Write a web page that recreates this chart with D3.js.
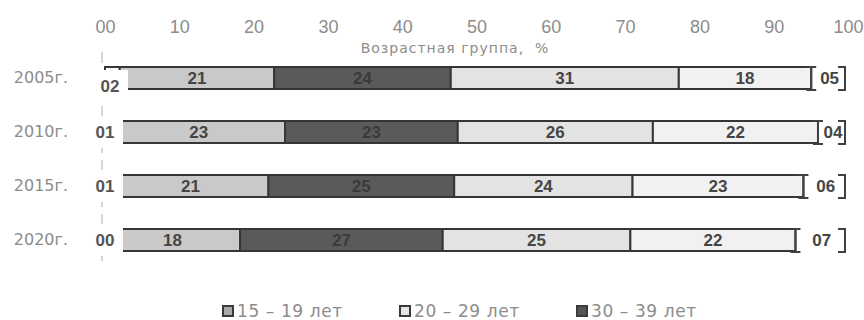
<!DOCTYPE html>
<html>
<head>
<meta charset="utf-8">
<script src="https://cdn.jsdelivr.net/npm/d3@7"></script>
<style>
  body { margin: 0; background: #fff; }
  svg { display: block; }
</style>
</head>
<body>
<svg id="chart" width="864" height="320"></svg>
<script>
// Shares by year, in the order the segments are stacked from left to right.
const years      = ["2005г.", "2010г.", "2015г.", "2020г."];
const leadShare  = [2, 1, 1, 0];      // tiny first share, printed at the zero line
const age15to19  = [21, 23, 21, 18];
const age30to39  = [24, 23, 25, 27];
const age20to29  = [31, 26, 24, 25];
const fourthShare = [18, 22, 23, 22];
const tailShare  = [5, 4, 6, 7];      // tiny last share, shown in brackets

const tickValues = [0, 10, 20, 30, 40, 50, 60, 70, 80, 90, 100];
const tickLabels = ["00", "10", "20", "30", "40", "50", "60", "70", "80", "90", "100"];
const legendLabels = ["15 – 19 лет", "20 – 29 лет", "30 – 39 лет"];
const axisTitle = "Возрастная группа,\u00a0 %";

const keys = ["lead", "a1519", "a3039", "a2029", "fourth", "tail"];
const rows = years.map((year, i) => ({
  year,
  lead: leadShare[i],
  a1519: age15to19[i],
  a3039: age30to39[i],
  a2029: age20to29[i],
  fourth: fourthShare[i],
  tail: tailShare[i]
}));

const fills = {
  lead: "#ffffff", a1519: "#c9c9c9", a3039: "#5a5a5a",
  a2029: "#e3e3e3", fourth: "#f1f1f1", tail: "#ffffff"
};
const legendFills = { a1519: "#a8a8a8", a2029: "#e6e6e6", a3039: "#555555" };
const labelColors = { a1519: "#454545", a3039: "#3a3a3a", a2029: "#454545", fourth: "#454545" };
const legendKeys = ["a1519", "a2029", "a3039"];

const svg = d3.select("#chart");
const x = d3.scaleLinear().domain([0, 100]).range([105, 848]);
const y = d3.scalePoint().domain(years).range([78, 240]);
const barH = 22;

// Percent stack: every bar is normalised to 100 %.
const series = d3.stack().keys(keys).offset(d3.stackOffsetExpand)(rows);
const px = v => x(v * 100);

// Dashed zero line behind the bars
svg.append("line")
  .attr("x1", x(0) - 3).attr("x2", x(0) - 3)
  .attr("y1", 52).attr("y2", 268)
  .attr("stroke", "#d6d6d6").attr("stroke-width", 2)
  .attr("stroke-dasharray", "11 7");

// Top axis
const axis = d3.axisTop(x)
  .tickValues(tickValues)
  .tickFormat((d, i) => tickLabels[i])
  .tickSize(0).tickPadding(0);
const ax = svg.append("g").attr("transform", "translate(0,33)").call(axis);
ax.select(".domain").remove();
ax.selectAll("text")
  .attr("font-family", "Liberation Sans, Arial, sans-serif")
  .attr("font-size", 18).attr("fill", "#8c8c8c");

svg.append("text")
  .attr("x", 455).attr("y", 53)
  .attr("text-anchor", "middle")
  .attr("font-family", "DejaVu Sans, sans-serif")
  .attr("font-size", 14).attr("letter-spacing", 1)
  .attr("fill", "#8c8c8c")
  .text(axisTitle);

// Year labels
svg.append("g").selectAll("text").data(years).join("text")
  .attr("x", 68).attr("y", d => y(d) + 5)
  .attr("text-anchor", "end")
  .attr("font-family", "DejaVu Sans, sans-serif")
  .attr("font-size", 16).attr("fill", "#8c8c8c")
  .text(d => d);

// Bar segments (all but the bracketed tail)
const segGroup = svg.append("g");
series.filter(s => s.key !== "tail").forEach(s => {
  segGroup.append("g").selectAll("rect").data(s).join("rect")
    .attr("x", d => px(d[0]))
    .attr("y", d => y(d.data.year) - barH / 2)
    .attr("width", d => Math.max(0, px(d[1]) - px(d[0])))
    .attr("height", barH)
    .attr("fill", fills[s.key])
    .attr("stroke", "#363636").attr("stroke-width", 2);
});

// Value labels inside the main segments
series.filter(s => s.key !== "tail" && s.key !== "lead").forEach(s => {
  segGroup.append("g").selectAll("text").data(s).join("text")
    .attr("x", d => (px(d[0]) + px(d[1])) / 2)
    .attr("y", d => y(d.data.year) + 6)
    .attr("text-anchor", "middle")
    .attr("font-family", "Liberation Sans, Arial, sans-serif")
    .attr("font-weight", "bold").attr("font-size", 17)
    .attr("fill", labelColors[s.key])
    .text(d => d.data[s.key]);
});

// Bracketed tail segment: an I-beam at its start and a closing bracket at its end
const tail = series.find(s => s.key === "tail");
const tailG = svg.append("g");
tailG.selectAll("path").data(tail).join("path")
  .attr("d", d => {
    const x0 = px(d[0]), x1 = px(d[1]) - 3;
    const t = y(d.data.year) - barH / 2, b = y(d.data.year) + barH / 2 + 1;
    return `M${x0 - 5},${t}H${x0 + 5}M${x0},${t}V${b}M${x0 - 5},${b}H${x0 + 5}` +
           `M${x1 - 7},${t}H${x1}V${b}H${x1 - 7}`;
  })
  .attr("fill", "none").attr("stroke", "#404040").attr("stroke-width", 2);
tailG.selectAll("text").data(tail).join("text")
  .attr("x", d => (px(d[0]) + px(d[1])) / 2)
  .attr("y", d => y(d.data.year) + 6)
  .attr("text-anchor", "middle")
  .attr("font-family", "Liberation Sans, Arial, sans-serif")
  .attr("font-weight", "bold").attr("font-size", 17)
  .attr("fill", "#454545")
  .text(d => d3.format("02d")(d.data.tail));

// Leading share: label on a white plate at the zero line
const leadShift = { "2005г.": [5, 8] };
const lead = series.find(s => s.key === "lead");
const leadG = svg.append("g").selectAll("g").data(lead).join("g")
  .attr("transform", d => {
    const [dx, dy] = leadShift[d.data.year] || [0, 0];
    return `translate(${x(0) + dx},${y(d.data.year) + dy})`;
  });
leadG.append("rect")
  .attr("x", -17).attr("y", -16).attr("width", 35).attr("height", 32)
  .attr("fill", "#fff");
leadG.append("text")
  .attr("y", 6).attr("text-anchor", "middle")
  .attr("font-family", "Liberation Sans, Arial, sans-serif")
  .attr("font-weight", "bold").attr("font-size", 17)
  .attr("fill", "#555")
  .text(d => d3.format("02d")(d.data.lead));

// Legend
const legend = svg.append("g").selectAll("g").data(legendKeys).join("g")
  .attr("transform", (d, i) => `translate(${222 + i * 177},311)`);
legend.append("rect")
  .attr("x", 1).attr("y", -5).attr("width", 10).attr("height", 10)
  .attr("fill", d => legendFills[d]).attr("stroke", "#3a3a3a").attr("stroke-width", 2);
legend.append("text")
  .attr("x", 15).attr("y", 6)
  .attr("font-family", "DejaVu Sans, sans-serif")
  .attr("font-size", 17).attr("letter-spacing", 0.6).attr("fill", "#8c8c8c")
  .text((d, i) => legendLabels[i]);
</script>
</body>
</html>
